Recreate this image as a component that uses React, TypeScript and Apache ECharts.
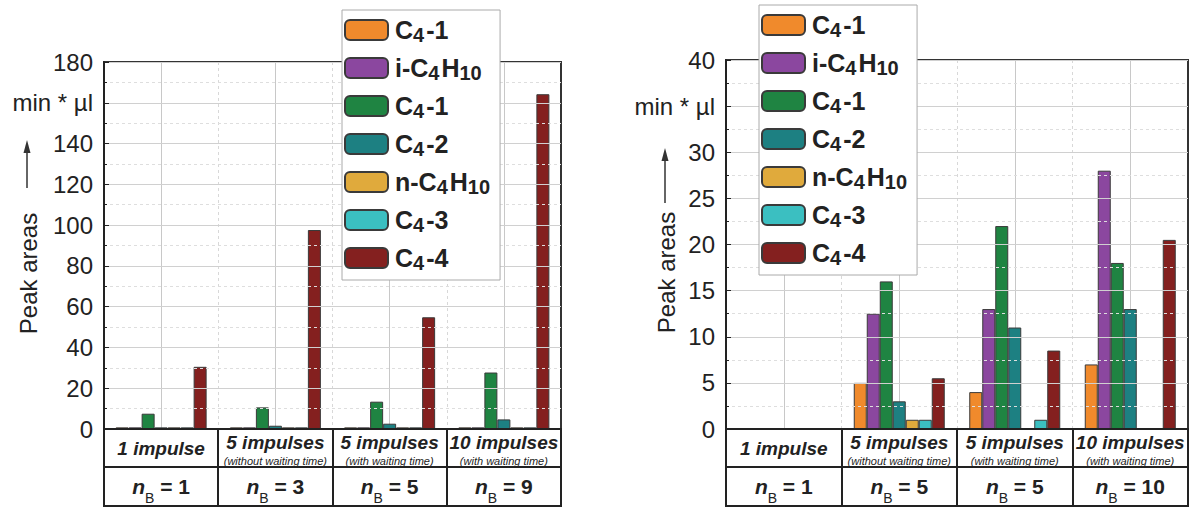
import React, { useEffect, useRef } from "react";
import * as echarts from "echarts";

const categories = ["1 impulse", "5 impulses", "5 impulses", "10 impulses"];
const subtitles = ["", "(without waiting time)", "(with waiting time)", "(with waiting time)"];
const nbLeft = [1, 3, 5, 9];
const nbRight = [1, 5, 5, 10];

const seriesNames = ["C4-1a", "i-C4H10", "C4-1b", "C4-2", "n-C4H10", "C4-3", "C4-4"];
const legendLabels: Record<string, string> = {
  "C4-1a": "{m|C}{s|4}{m|-1}",
  "i-C4H10": "{m|i-C}{s|4}{m|H}{s|10}",
  "C4-1b": "{m|C}{s|4}{m|-1}",
  "C4-2": "{m|C}{s|4}{m|-2}",
  "n-C4H10": "{m|n-C}{s|4}{m|H}{s|10}",
  "C4-3": "{m|C}{s|4}{m|-3}",
  "C4-4": "{m|C}{s|4}{m|-4}",
};
const colors = ["#F08A2C", "#8B479F", "#1F8442", "#1D8082", "#E0AA3C", "#3BBFC1", "#84201F"];

// left chart values, per series, per category
const leftC41a = [0.8, 0.8, 0.8, 0.8];
const leftIC4H10 = [0.8, 0.8, 0.8, 0.8];
const leftC41b = [7.5, 10.6, 13.4, 27.7];
const leftC42 = [0.8, 1.6, 2.6, 4.7];
const leftNC4H10 = [0.8, 0.8, 0.8, 0.8];
const leftC43 = [0.8, 0.8, 0.8, 0.8];
const leftC44 = [30.5, 97.6, 54.8, 164.2];

// right chart values
const rightC41a = [0, 5, 4, 7];
const rightIC4H10 = [0, 12.5, 13, 28];
const rightC41b = [0, 16, 22, 18];
const rightC42 = [0, 3, 11, 13];
const rightNC4H10 = [0, 1, 0, 0];
const rightC43 = [0, 1, 1, 0];
const rightC44 = [0, 5.5, 8.5, 20.5];

const leftData = [leftC41a, leftIC4H10, leftC41b, leftC42, leftNC4H10, leftC43, leftC44];
const rightData = [rightC41a, rightIC4H10, rightC41b, rightC42, rightNC4H10, rightC43, rightC44];

const FONT = "'Liberation Sans', Arial, sans-serif";
const DARK = "#222";

const GL = { left: 104, top: 62, width: 457, height: 367 };
const GR = { left: 726, top: 60, width: 462, height: 369 };
const TABLE_BOTTOM = 506;
const TABLE_MID = 467;

function catLabelFormatter(nb: number[]) {
  return (value: string, index: number) => {
    const nbPart = `{n|n}{b|B}{e| = ${nb[index]}}`;
    if (!subtitles[index]) return `{t1|${value}}\n${nbPart}`;
    return `{t|${value}}\n{s|${subtitles[index]}}\n${nbPart}`;
  };
}

const catRich = {
  t1: { fontFamily: FONT, fontSize: 19, fontWeight: "bold", fontStyle: "italic", color: DARK, lineHeight: 38 },
  t: { fontFamily: FONT, fontSize: 19, fontWeight: "bold", fontStyle: "italic", color: DARK, lineHeight: 26 },
  s: { fontFamily: FONT, fontSize: 11, fontStyle: "italic", color: DARK, lineHeight: 12 },
  n: { fontFamily: FONT, fontSize: 21, fontWeight: "bold", fontStyle: "italic", color: DARK, lineHeight: 38 },
  b: { fontFamily: FONT, fontSize: 14, color: DARK, lineHeight: 24, verticalAlign: "bottom" },
  e: { fontFamily: FONT, fontSize: 21, fontWeight: "bold", color: DARK, lineHeight: 38 },
};

function tableGraphics(g: { left: number; width: number }) {
  const els: any[] = [];
  const top = GL.top + GL.height;
  els.push({
    type: "rect",
    shape: { x: g.left, y: top, width: g.width, height: TABLE_BOTTOM - top },
    style: { fill: "none", stroke: DARK, lineWidth: 2 },
    z: 10,
  });
  els.push({
    type: "line",
    shape: { x1: g.left, y1: TABLE_MID, x2: g.left + g.width, y2: TABLE_MID },
    style: { stroke: DARK, lineWidth: 2 },
    z: 10,
  });
  for (let i = 1; i < 4; i++) {
    const x = Math.round(g.left + (i * g.width) / 4);
    els.push({
      type: "line",
      shape: { x1: x, y1: top, x2: x, y2: TABLE_BOTTOM },
      style: { stroke: DARK, lineWidth: 2 },
      z: 10,
    });
  }
  return els;
}

// upward arrow next to the axis name
function arrowGraphics(x: number, tail: number, tip: number) {
  return [
    {
      type: "line",
      shape: { x1: x, y1: tail, x2: x, y2: tip + 10 },
      style: { stroke: "#333", lineWidth: 1.5 },
      z: 10,
    },
    {
      type: "polygon",
      shape: { points: [[x, tip], [x - 3.5, tip + 13], [x + 3.5, tip + 13]] },
      style: { fill: "#333" },
      z: 10,
    },
  ];
}

function makeAxes(gi: number, max: number, interval: number, unitAt: number, nb: number[], nameGap: number) {
  const xCat = {
    type: "category",
    gridIndex: gi,
    data: categories,
    axisLine: { show: true, lineStyle: { color: DARK, width: 2 } },
    axisTick: { show: false },
    splitLine: { show: true, lineStyle: { color: "#d8d8d8", type: [3, 3], width: 1 } },
    axisLabel: {
      interval: 0,
      margin: 0,
      formatter: catLabelFormatter(nb),
      rich: catRich,
    },
    z: 1,
  };
  const xHelper = {
    type: "category",
    gridIndex: gi,
    data: ["", "", "", "", "", "", "", "", ""],
    boundaryGap: false,
    axisLine: { show: false },
    axisTick: { show: false },
    axisLabel: { show: false },
    splitLine: {
      show: true,
      interval: (i: number) => i % 2 === 1,
      lineStyle: { color: "#c8c8c8", width: 1 },
    },
    z: 1,
  };
  const y = {
    type: "value",
    gridIndex: gi,
    min: 0,
    max,
    interval,
    name: "{t|Peak areas}{g| }",
    nameLocation: "middle",
    nameGap,
    nameRotate: 90,
    nameMoveOverlap: false,
    nameTextStyle: {
      rich: {
        t: { fontFamily: FONT, fontSize: 24, color: DARK },
        g: { width: 56, fontSize: 24 },
      },
    },
    axisLine: { show: true, lineStyle: { color: DARK, width: 2 } },
    axisTick: { show: true, inside: true, length: 5, lineStyle: { color: DARK } },
    minorTick: { show: true, splitNumber: 2, length: 3, lineStyle: { color: DARK } },
    splitLine: { show: true, lineStyle: { color: "#d0d0d0", width: 1 } },
    minorSplitLine: { show: true, lineStyle: { color: "#dedede", type: [3, 3], width: 1 } },
    axisLabel: {
      margin: 11,
      fontFamily: FONT,
      fontSize: 24,
      color: DARK,
      formatter: (v: number) => (v === unitAt ? "min * µl" : String(v)),
    },
    z: 6,
  };
  return { xCat, xHelper, y };
}

function makeLegend(left: number, top: number) {
  return {
    orient: "vertical",
    left,
    top,
    data: seriesNames,
    itemWidth: 43,
    itemHeight: 20,
    itemGap: 8,
    padding: [5, 10, 7, 2],
    backgroundColor: "#fff",
    borderColor: "#aaa",
    borderWidth: 1,
    selectedMode: false,
    formatter: (name: string) => legendLabels[name],
    textStyle: {
      rich: {
        m: { fontFamily: FONT, fontSize: 25, fontWeight: "bold", color: DARK, lineHeight: 26, padding: [0, 0, 0, 2] },
        s: {
          fontFamily: FONT,
          fontSize: 20,
          fontWeight: "bold",
          color: DARK,
          lineHeight: 20,
          padding: [10, 0, 0, 0],
          verticalAlign: "middle",
        },
      },
    },
    z: 20,
  };
}

export default function App() {
  const ref = useRef<HTMLDivElement>(null);
  useEffect(() => {
    if (!ref.current) return;
    const chart = echarts.init(ref.current, null, { renderer: "svg" });
    const A = makeAxes(0, 180, 20, 160, nbLeft, 64);
    const B = makeAxes(1, 40, 5, 35, nbRight, 48);
    const series: any[] = [];
    const addSeries = (data: number[][], xi: number, yi: number) => {
      data.forEach((vals, k) => {
        series.push({
          type: "bar",
          name: seriesNames[k],
          xAxisIndex: xi,
          yAxisIndex: yi,
          data: vals,
          barWidth: 13,
          barGap: "0%",
          itemStyle: { color: colors[k], borderColor: "#3a3a3a", borderWidth: 1 },
          z: 3,
        });
      });
    };
    addSeries(leftData, 0, 0);
    addSeries(rightData, 2, 1);
    chart.setOption({
      animation: false,
      backgroundColor: "#fff",
      textStyle: { fontFamily: FONT },
      grid: [
        { ...GL, show: true, borderColor: "#333", borderWidth: 2, backgroundColor: "transparent", z: 4 },
        { ...GR, show: true, borderColor: "#333", borderWidth: 2, backgroundColor: "transparent", z: 4 },
      ],
      xAxis: [A.xCat, A.xHelper, B.xCat, B.xHelper],
      yAxis: [A.y, B.y],
      legend: [makeLegend(342, 10), makeLegend(759, 5)],
      series,
      graphic: [
        ...tableGraphics(GL),
        ...tableGraphics(GR),
        ...arrowGraphics(27, 188, 140),
        ...arrowGraphics(665, 203, 148),
      ],
    });
    return () => chart.dispose();
  }, []);
  return (
    <div
      ref={ref}
      style={{ position: "absolute", left: 0, top: 0, width: 1192, height: 508, background: "#fff" }}
    />
  );
}
